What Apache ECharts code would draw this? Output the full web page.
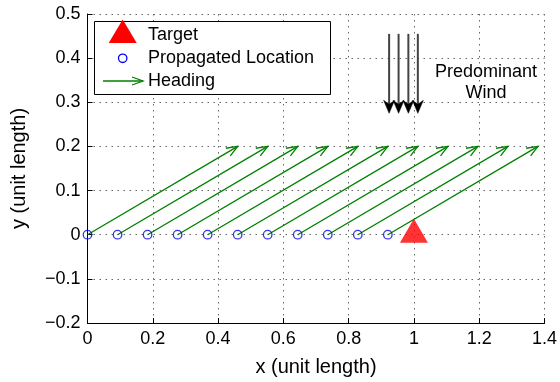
<!DOCTYPE html>
<html>
<head>
<meta charset="utf-8">
<script src="https://cdn.jsdelivr.net/npm/echarts@6/dist/echarts.min.js"></script>
<style>
  html, body { margin: 0; padding: 0; background: #fff; }
  #chart { width: 560px; height: 382px; }
</style>
</head>
<body>
<div id="chart"></div>
<script>
// propagated locations (x, y)
const locX = [0, 0.092, 0.184, 0.276, 0.368, 0.46, 0.552, 0.644, 0.736, 0.828, 0.92];
const locY = [0, 0, 0, 0, 0, 0, 0, 0, 0, 0, 0];
// heading arrow tips
const tipX = [0.46, 0.552, 0.644, 0.736, 0.828, 0.92, 1.012, 1.104, 1.196, 1.288, 1.38];
const tipY = [0.2, 0.2, 0.2, 0.2, 0.2, 0.2, 0.2, 0.2, 0.2, 0.2, 0.2];
// target
const targetX = [1.0];
const targetY = [0];
// predominant wind arrows
const windX = [0.924, 0.953, 0.983, 1.012];
const windTop = [0.455, 0.455, 0.455, 0.455];
const windBottom = [0.275, 0.275, 0.275, 0.275];

const xTicks = [0, 0.2, 0.4, 0.6, 0.8, 1, 1.2, 1.4];
const yTicks = [-0.2, -0.1, 0, 0.1, 0.2, 0.3, 0.4, 0.5];

const FONT = "'Liberation Sans', Arial, Helvetica, sans-serif";
const GREEN = "#008000";

const chart = echarts.init(document.getElementById("chart"), null, { renderer: "canvas" });

const fmt = (v) => String(+(+v).toFixed(1)).replace("-", "\u2212");

// green heading arrow: line + open head
function headingItem(params, api) {
  const p0 = api.coord([api.value(0), api.value(1)]);
  const p1 = api.coord([api.value(2), api.value(3)]);
  const ang = Math.atan2(p1[1] - p0[1], p1[0] - p0[0]);
  const len = 12, spread = 0.38;
  const h1 = [p1[0] - len * Math.cos(ang - spread), p1[1] - len * Math.sin(ang - spread)];
  const h2 = [p1[0] - len * Math.cos(ang + spread), p1[1] - len * Math.sin(ang + spread)];
  return {
    type: "group",
    children: [
      { type: "line", shape: { x1: p0[0], y1: p0[1], x2: p1[0], y2: p1[1] }, style: { stroke: GREEN, lineWidth: 1.3 } },
      { type: "polyline", shape: { points: [h1, p1, h2] }, style: { stroke: GREEN, fill: null, lineWidth: 1.3 } },
    ],
  };
}

// black wind arrow: line + filled notched head
function windItem(params, api) {
  const p0 = api.coord([api.value(0), api.value(1)]);
  const p1 = api.coord([api.value(0), api.value(2)]);
  const hl = 13, hw = 5.5, notch = 4;
  return {
    type: "group",
    children: [
      { type: "line", shape: { x1: p0[0], y1: p0[1], x2: p1[0], y2: p1[1] - hl + notch }, style: { stroke: "#444", lineWidth: 2 } },
      {
        type: "polygon",
        shape: { points: [[p1[0], p1[1]], [p1[0] - hw, p1[1] - hl], [p1[0], p1[1] - hl + notch], [p1[0] + hw, p1[1] - hl]] },
        style: { fill: "#000", stroke: "#000", lineWidth: 0.5 },
      },
    ],
  };
}

const headingData = locX.map((x, i) => [x, locY[i], tipX[i], tipY[i]]);
const windData = windX.map((x, i) => [x, windTop[i], windBottom[i]]);

const axisCommon = {
  axisLine: { show: true, onZero: false, lineStyle: { color: "#000", width: 1 } },
  axisTick: { show: true, inside: true, length: 5, lineStyle: { color: "#000" } },
  splitLine: { show: true, lineStyle: { color: "#666", type: [1.5, 4.5], width: 1 } },
  axisLabel: { color: "#000", fontSize: 18, fontFamily: FONT, formatter: fmt },
  nameLocation: "middle",
  nameTextStyle: { color: "#000", fontSize: 20, fontFamily: FONT },
};

// legend drawn as graphic elements
const legendGraphic = [
  { type: "rect", shape: { x: 94.5, y: 21.5, width: 236, height: 73 }, style: { fill: "#fff", stroke: "#000", lineWidth: 1 }, z: 100 },
  { type: "polygon", shape: { points: [[122.7, 19.5], [108.7, 43], [136.7, 43]] }, style: { fill: "#ff0000" }, z: 101 },
  { type: "circle", shape: { cx: 122.7, cy: 58.3, r: 4.2 }, style: { fill: null, stroke: "#0000ff", lineWidth: 1.3 }, z: 101 },
  { type: "line", shape: { x1: 103, y1: 81, x2: 143, y2: 81 }, style: { stroke: GREEN, lineWidth: 1.3 }, z: 101 },
  { type: "polyline", shape: { points: [[132, 77], [143, 81], [132, 85]] }, style: { stroke: GREEN, fill: null, lineWidth: 1.3 }, z: 101 },
  { type: "text", x: 148, y: 35, style: { text: "Target", font: "18px " + FONT, fill: "#000", verticalAlign: "middle" }, z: 101 },
  { type: "text", x: 148, y: 58.5, style: { text: "Propagated Location", font: "18px " + FONT, fill: "#000", verticalAlign: "middle" }, z: 101 },
  { type: "text", x: 148, y: 81, style: { text: "Heading", font: "18px " + FONT, fill: "#000", verticalAlign: "middle" }, z: 101 },
  {
    type: "text", x: 486, y: 82.5,
    style: { text: "Predominant\nWind", font: "18px " + FONT, fill: "#000", align: "center", verticalAlign: "middle", lineHeight: 21 },
    z: 101,
  },
];

const option = {
  animation: false,
  backgroundColor: "#fff",
  grid: { left: 87.5, right: 11.5, top: 14, bottom: 55.5, containLabel: false },
  xAxis: Object.assign({}, axisCommon, {
    type: "value",
    min: xTicks[0],
    max: xTicks[xTicks.length - 1],
    interval: 0.2,
    name: "x (unit length)",
    nameGap: 34,
    axisLabel: Object.assign({}, axisCommon.axisLabel, { margin: 7 }),
  }),
  yAxis: Object.assign({}, axisCommon, {
    type: "value",
    min: yTicks[0],
    max: yTicks[yTicks.length - 1],
    interval: 0.1,
    name: "y (unit length)",
    nameGap: 58,
    axisLabel: Object.assign({}, axisCommon.axisLabel, { margin: 7 }),
  }),
  graphic: legendGraphic,
  series: [
    {
      name: "Heading",
      type: "custom",
      renderItem: headingItem,
      data: headingData,
      encode: { x: [0, 2], y: [1, 3] },
      clip: false,
      z: 3,
    },
    {
      name: "Propagated Location",
      type: "scatter",
      data: locX.map((x, i) => [x, locY[i]]),
      symbol: "circle",
      symbolSize: 8.5,
      itemStyle: { color: "rgba(0,0,0,0)", borderColor: "#0000ff", borderWidth: 1.3 },
      z: 4,
    },
    {
      name: "Target",
      type: "scatter",
      data: targetX.map((x, i) => [x, targetY[i]]),
      symbol: "triangle",
      symbolSize: [28, 24],
      symbolOffset: [0, -4],
      itemStyle: { color: "#ff0000" },
      z: 5,
    },
    {
      name: "Wind",
      type: "custom",
      renderItem: windItem,
      data: windData,
      encode: { x: 0, y: [1, 2] },
      clip: false,
      z: 6,
    },
  ],
};

chart.setOption(option);
</script>
</body>
</html>
